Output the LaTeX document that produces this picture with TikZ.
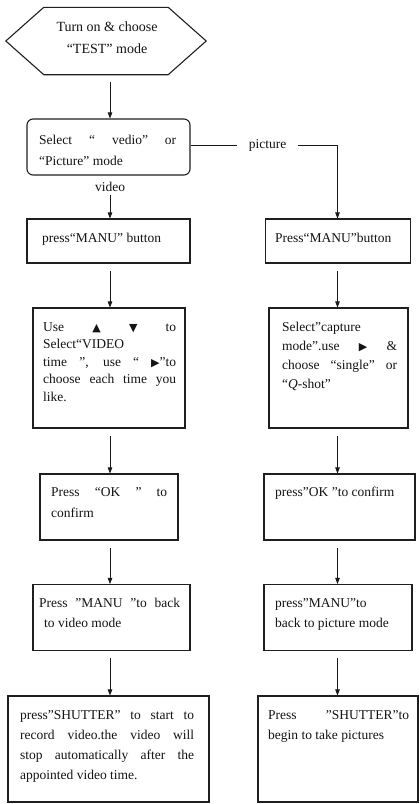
\documentclass[tikz,border=0pt]{standalone}
\usepackage{fontspec}
\setmainfont{Liberation Serif}
\newfontfamily\symf{DejaVu Sans}
\usetikzlibrary{arrows.meta}
\tikzset{
  boxs/.style={draw=black!88, line width=1.1pt, inner sep=0pt, rectangle},
  edgeline/.style={draw=black!88, line width=1.1pt},
  arr/.style={draw=black!90, line width=0.8pt, -{Triangle[length=6pt,width=4.5pt]}},
  arrg/.style={arr, shorten <=7pt},
  lin/.style={draw=black!90, line width=0.8pt},
  txt/.style={anchor=north west, inner sep=0pt, align=justify, text=black!92},
  fnt/.style={font=\fontsize{13.5}{#1}\selectfont},
}
\newcommand{\tri}[1]{{\symf\fontsize{11}{11}\selectfont #1}}
\begin{document}
\hyphenpenalty=10000
\exhyphenpenalty=10000
\begin{tikzpicture}[x=1pt,y=-1pt]
\fill[white] (0,0) rectangle (420,804);
\useasboundingbox (0,0) rectangle (420,804);
\coordinate (cL) at (110,0);
\coordinate (cR) at (337.5,0);

% start hexagon
\node[minimum width=124pt, minimum height=67pt, inner sep=0pt] (hex) at (106,41) {};
\draw[edgeline] (hex.north west) -- (hex.north east) -- ([xshift=38pt]hex.east) -- (hex.south east) -- (hex.south west) -- ([xshift=-38pt]hex.west) -- cycle;
\node[align=center, inner sep=0pt, text=black!92, font=\fontsize{14}{22}\selectfont] (hext) at (107,38) {Turn on \& choose\\“TEST” mode};

% select
\node[boxs, rounded corners=6pt, minimum width=163pt, minimum height=56pt] (sel) at (108.5,147) {};
\node[txt, fnt=21, text width=137pt] (selt) at (39,129.3) {\strut Select “ vedio” or\linebreak “Picture” mode};

\node[inner sep=0pt, text=black!92, font=\fontsize{13.5}{16}\selectfont] (vid) at (110,187) {video};
\node[inner xsep=12pt, inner ysep=0pt, text=black!92, font=\fontsize{13.5}{16}\selectfont] (pic) at (267.5,145.5) {picture};

% left column
\node[boxs, minimum width=163pt, minimum height=44pt] (L3) at (108.5,241) {};
\node[txt, fnt=20, text width=140pt] (L3t) at (42,228) {\strut press“MANU” button};

\node[boxs, minimum width=152pt, minimum height=120pt] (L4) at (109,368) {};
\node[txt, fnt=17.5, text width=133pt] (L4t) at (43,318.75) {\strut Use \tri{▲} \tri{▼} to\linebreak Select“VIDEO\newline time ”, use “ \tri{▶}”to\linebreak choose each time you\linebreak like.};

\node[boxs, minimum width=138pt, minimum height=66pt] (L5) at (109,507) {};
\node[txt, fnt=21, text width=116pt] (L5t) at (51,481.3) {\strut Press \ “OK \ ” \ to\linebreak confirm};

\node[boxs, minimum width=157pt, minimum height=66pt] (L6) at (111.5,617.5) {};
\node[txt, fnt=20, text width=141pt] (L6t) at (39,593) {\strut Press ”MANU ”to back\linebreak\hspace*{5pt}to video mode};

\node[boxs, minimum width=201pt, minimum height=106pt] (L7) at (108.5,749) {};
\node[txt, fnt=20, text width=174pt] (L7t) at (20,705) {\strut press”SHUTTER” to start to\linebreak record video.the video will\linebreak stop automatically after the\linebreak appointed video time.};

% right column
\node[boxs, minimum width=145pt, minimum height=44pt] (R3) at (338,241) {};
\node[txt, fnt=20, text width=130pt] (R3t) at (275,228) {\strut Press“MANU”button};

\node[boxs, minimum width=139pt, minimum height=120pt] (R4) at (338.5,368) {};
\node[txt, fnt=19, text width=115pt] (R4t) at (282,317.7) {\strut Select”capture\newline mode”.use \ \tri{▶} \ \&\linebreak choose “single” or\linebreak “\textit{Q}-shot”};

\node[boxs, minimum width=151pt, minimum height=66pt] (R5) at (339.5,507) {};
\node[txt, fnt=20, text width=135pt] (R5t) at (275,482) {\strut press”OK ”to confirm};

\node[boxs, minimum width=148pt, minimum height=66pt] (R6) at (338,617.5) {};
\node[txt, fnt=20, text width=130pt] (R6t) at (275,593) {\strut press”MANU”to\newline back to picture mode};

\node[boxs, minimum width=160pt, minimum height=106pt] (R7) at (338,749) {};
\node[txt, fnt=20, text width=141pt] (R7t) at (268,705) {\strut Press \quad ”SHUTTER”to\linebreak begin to take pictures};

% connectors
\draw[arrg] (hex.south -| cL) -- (sel.north -| cL);
\draw[arr, shorten <=3pt] (vid.south) -- (L3.north -| vid.south);
\draw[lin] (pic.west -| sel.east) -- (pic.west);
\draw[arr] (pic.east) -| (R3.north -| cR);
\draw[arrg] (L3.south -| cL) -- (L4.north -| cL);
\draw[arrg] (L4.south -| cL) -- (L5.north -| cL);
\draw[arrg] (L5.south -| cL) -- (L6.north -| cL);
\draw[arrg] (L6.south -| cL) -- (L7.north -| cL);
\draw[arrg] (R3.south -| cR) -- (R4.north -| cR);
\draw[arrg] (R4.south -| cR) -- (R5.north -| cR);
\draw[arrg] (R5.south -| cR) -- (R6.north -| cR);
\draw[arrg] (R6.south -| cR) -- (R7.north -| cR);
\end{tikzpicture}
\end{document}
